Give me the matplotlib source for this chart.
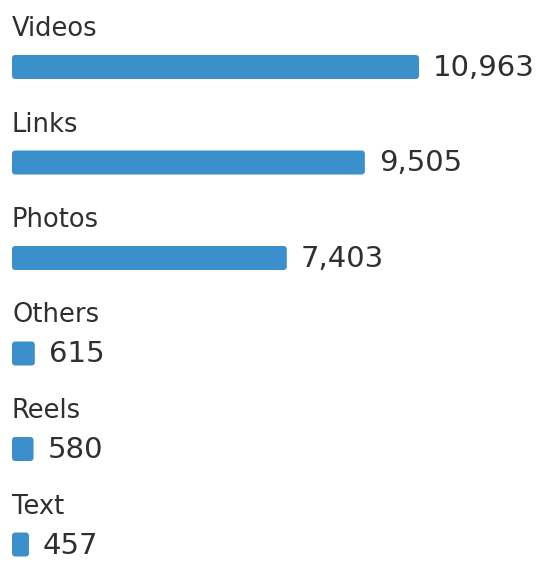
import matplotlib.pyplot as plt
from matplotlib.patches import FancyBboxPatch

categories = ["Videos", "Links", "Photos", "Others", "Reels", "Text"]
values = [10963, 9505, 7403, 615, 580, 457]

bar_color = "#3b8fca"
text_color = "#2f2f2f"

W, H, DPI = 540, 562, 100
px_x = 10963 / 407.0          # data units per pixel, horizontally
px_y = 1 / 95.5               # row units per pixel, vertically
top = 67                      # pixel centre of the first bar

fig = plt.figure(figsize=(W / DPI, H / DPI), dpi=DPI)
ax = fig.add_axes([0, 0, 1, 1])
ax.set_xlim(-12 * px_x, (W - 12) * px_x)
ax.set_ylim((H - top) * px_y, -top * px_y)
ax.axis("off")

rows = list(range(len(categories)))
bars = ax.barh(rows, values, height=24 * px_y, color=bar_color)

# swap the plain rectangles for rounded ones
for b in bars:
    b.set_visible(False)
    ax.add_patch(FancyBboxPatch(
        (b.get_x(), b.get_y()), b.get_width(), b.get_height(),
        boxstyle=f"round,pad=0,rounding_size={3.5 * px_x}",
        mutation_aspect=px_y / px_x,
        facecolor=bar_color, edgecolor="none"
    ))

for r, name, v in zip(rows, categories, values):
    ax.text(0, r - 31 * px_y, name, ha="left", va="baseline",
            fontsize=18.5, color=text_color, family="DejaVu Sans")
    ax.text(v + 14 * px_x, r + 9 * px_y, f"{v:,}", ha="left", va="baseline",
            fontsize=21, color=text_color, family="DejaVu Sans")

fig.savefig("out.png", dpi=DPI, facecolor="white")
